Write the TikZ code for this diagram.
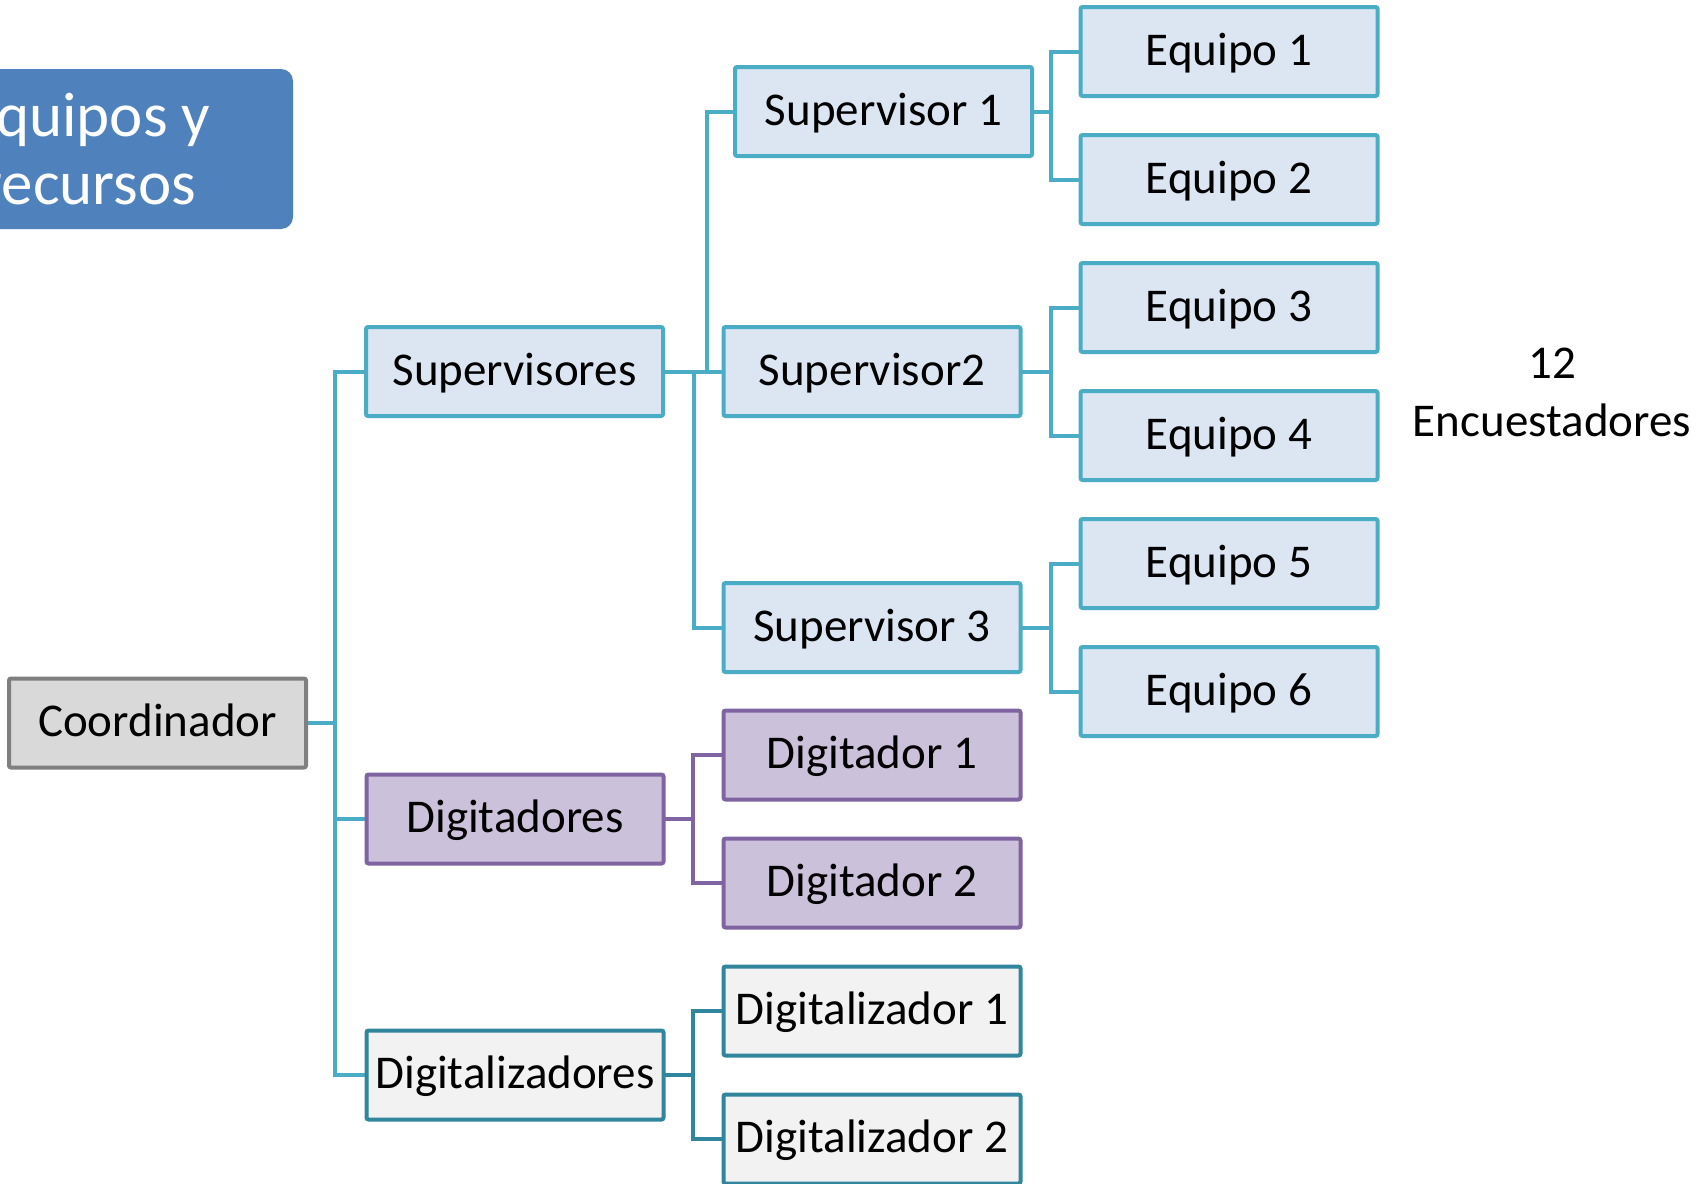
\documentclass[tikz,border=0pt]{standalone}
\usepackage{fontspec}
\setmainfont{Carlito}
\usetikzlibrary{backgrounds}
\definecolor{cyanB}{HTML}{4BACC6}
\definecolor{cyanF}{HTML}{DCE6F2}
\definecolor{purB}{HTML}{8064A2}
\definecolor{purF}{HTML}{CCC1DA}
\definecolor{tealB}{HTML}{31859C}
\definecolor{greyF}{HTML}{F2F2F2}
\definecolor{coB}{HTML}{7F7F7F}
\definecolor{coF}{HTML}{D9D9D9}
\definecolor{titleF}{HTML}{4F81BD}
\begin{document}
\begin{tikzpicture}[x=1pt,y=-1pt,
  box/.style={rectangle, rounded corners=2pt, line width=4pt, minimum width=297pt,
    minimum height=89pt, inner sep=0pt, outer sep=0pt,
    font=\fontsize{47}{56}\selectfont, text height=36pt, text depth=9pt},
  sbox/.style={box, draw=cyanB, fill=cyanF},
  pbox/.style={box, draw=purB, fill=purF},
  tbox/.style={box, draw=tealB, fill=greyF},
  cbox/.style={box, draw=coB, fill=coF},
  clink/.style={line width=4pt, draw=cyanB},
  plink/.style={line width=4pt, draw=purB},
  tlink/.style={line width=4pt, draw=tealB}]
\clip (0,0) rectangle (1702,1183);

% title
\node[rectangle, rounded corners=12pt, fill=titleF, minimum width=409pt, minimum height=160pt,
  inner sep=0pt, text=white, align=center, font=\fontsize{63}{68}\selectfont]
  (title) at (88.5,149) {Equipos y\\recursos};

% level 0
\node[cbox] (coord) at (157.5,723) {Coordinador};
% level 1
\node[sbox] (sups) at (514.5,371.5) {Supervisores};
\node[pbox] (digs) at (515,819) {Digitadores};
\node[tbox] (digz) at (515,1075) {Digitalizadores};
% level 2
\node[sbox] (sup1) at (883.5,111.5) {Supervisor 1};
\node[sbox] (sup2) at (872,371.5) {Supervisor2};
\node[sbox] (sup3) at (872,627.5) {Supervisor 3};
\node[pbox] (dig1) at (872,755) {Digitador 1};
\node[pbox] (dig2) at (872,883) {Digitador 2};
\node[tbox] (dz1) at (872,1011) {Digitalizador 1};
\node[tbox] (dz2) at (872,1139) {Digitalizador 2};
% level 3
\node[sbox] (eq1) at (1229,51.5) {Equipo 1};
\node[sbox] (eq2) at (1229,179.5) {Equipo 2};
\node[sbox] (eq3) at (1229,307.5) {Equipo 3};
\node[sbox] (eq4) at (1229,435.5) {Equipo 4};
\node[sbox] (eq5) at (1229,563.5) {Equipo 5};
\node[sbox] (eq6) at (1229,691.5) {Equipo 6};

\node[align=center, inner sep=0pt, font=\fontsize{47}{58}\selectfont]
  (enc) at (1552,392) {12\\Encuestadores};

% junction points
\coordinate (j0) at (335,723);
\coordinate (js1) at (707,371.5);
\coordinate (js3) at (694,371.5);
\coordinate (je1) at (1051,111.5);
\coordinate (je2) at (1051,371.5);
\coordinate (je3) at (1051,627.5);
\coordinate (jd) at (693,819);
\coordinate (jz) at (693,1075);

\begin{pgfonlayer}{background}
\draw[clink] (coord.east) -- (j0);
\draw[clink] (sups.west) -| (j0);
\draw[clink] (digs.west) -| (j0);
\draw[clink] (digz.west) -| (j0);

\draw[clink] (sups.east) -- (sup2.west);
\draw[clink] (sup1.west) -| (js1);
\draw[clink] (sup3.west) -| (js3);

\draw[clink] (sup1.east) -- (je1);
\draw[clink] (eq1.west) -| (je1);
\draw[clink] (eq2.west) -| (je1);
\draw[clink] (sup2.east) -- (je2);
\draw[clink] (eq3.west) -| (je2);
\draw[clink] (eq4.west) -| (je2);
\draw[clink] (sup3.east) -- (je3);
\draw[clink] (eq5.west) -| (je3);
\draw[clink] (eq6.west) -| (je3);

\draw[plink] (digs.east) -- (jd);
\draw[plink] (dig1.west) -| (jd);
\draw[plink] (dig2.west) -| (jd);

\draw[tlink] (digz.east) -- (jz);
\draw[tlink] (dz1.west) -| (jz);
\draw[tlink] (dz2.west) -| (jz);
\end{pgfonlayer}
\end{tikzpicture}
\end{document}
